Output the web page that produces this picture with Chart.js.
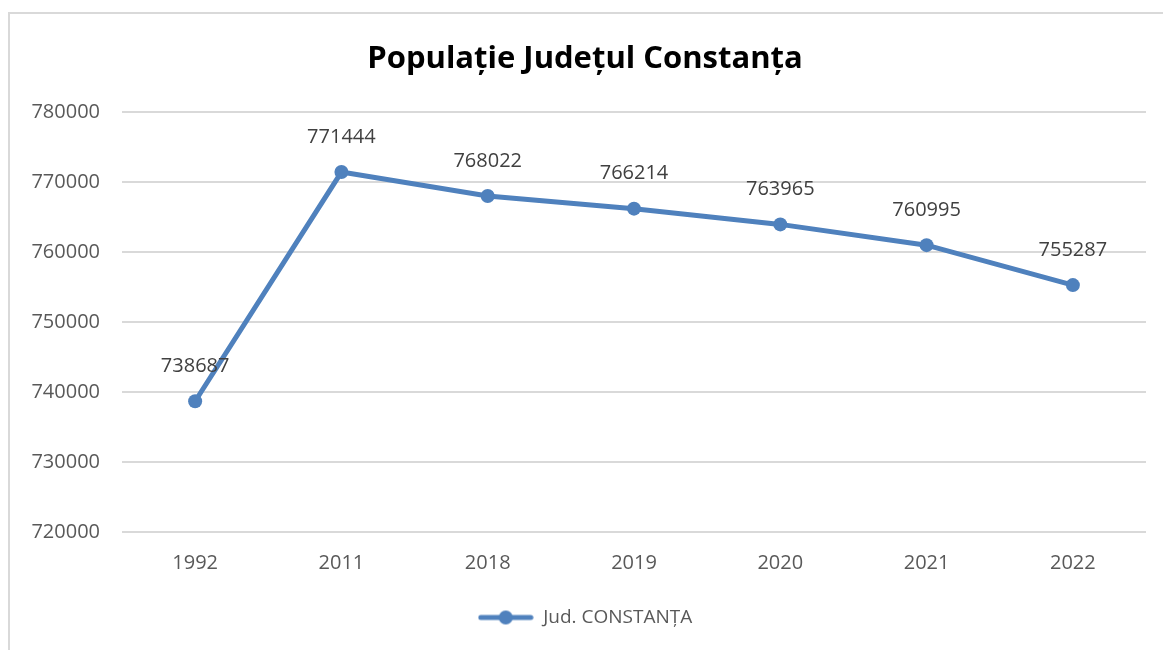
<!DOCTYPE html>
<html>
<head>
<meta charset="utf-8">
<script src="https://cdn.jsdelivr.net/npm/chart.js@4.4.1/dist/chart.umd.min.js"></script>
<style>
  html, body { margin: 0; padding: 0; background: #fff; }
  #wrap { position: relative; width: 1163px; height: 650px; overflow: hidden; }
  #frame { position: absolute; left: 8px; top: 12px; width: 1200px; height: 700px;
           border-left: 2px solid #d9d9d9; border-top: 2px solid #d9d9d9; }
  #c { position: absolute; left: 0; top: 0; }
</style>
</head>
<body>
<div id="wrap">
  <div id="frame"></div>
  <canvas id="c" width="1163" height="650"></canvas>
</div>
<script>
// ── data ──
const years = ['1992', '2011', '2018', '2019', '2020', '2021', '2022'];
const population = [738687, 771444, 768022, 766214, 763965, 760995, 755287];
const yTicks = [720000, 730000, 740000, 750000, 760000, 770000, 780000];

const BLUE = '#4f81bd';
const FONT = "'Open Sans', 'Noto Sans', sans-serif";

// legend marker: line with a dot in the middle
const marker = document.createElement('canvas');
marker.width = 56; marker.height = 16;
(function () {
  const m = marker.getContext('2d');
  m.strokeStyle = BLUE; m.lineWidth = 5; m.lineCap = 'round';
  m.beginPath(); m.moveTo(3, 8); m.lineTo(53, 8); m.stroke();
  m.fillStyle = BLUE;
  m.beginPath(); m.arc(28, 8, 7, 0, Math.PI * 2); m.fill();
})();

// value labels above each point
const valueLabels = {
  id: 'valueLabels',
  afterDatasetsDraw(chart) {
    const ctx = chart.ctx;
    const meta = chart.getDatasetMeta(0);
    ctx.save();
    ctx.font = '20px ' + FONT;
    ctx.fillStyle = '#404040';
    ctx.textAlign = 'center';
    ctx.textBaseline = 'middle';
    meta.data.forEach((pt, i) => {
      ctx.fillText(String(population[i]), pt.x, pt.y - 35);
    });
    ctx.restore();
  }
};

new Chart(document.getElementById('c'), {
  type: 'line',
  data: {
    labels: years,
    datasets: [{
      label: 'Jud. CONSTANȚA',
      data: population,
      borderColor: BLUE,
      backgroundColor: BLUE,
      borderWidth: 5,
      pointRadius: 7,
      pointBackgroundColor: BLUE,
      pointBorderWidth: 0,
      tension: 0,
      pointStyle: 'circle'
    }]
  },
  options: {
    responsive: false,
    animation: false,
    layout: { padding: { left: 24, right: 17, top: 0, bottom: 13 } },
    plugins: {
      title: {
        display: true,
        text: 'Populație Județul Constanța',
        color: '#000',
        font: { family: FONT, size: 31, weight: 'bold' },
        padding: { top: 41, bottom: 34 }
      },
      legend: {
        position: 'bottom',
        labels: {
          usePointStyle: true,
          pointStyle: marker,
          pointStyleWidth: 56,
          color: '#595959',
          font: { family: FONT, size: 19 },
          padding: 14
        }
      },
      tooltip: { enabled: false }
    },
    scales: {
      x: {
        offset: true,
        grid: { display: false, drawTicks: false },
        border: { display: false },
        ticks: { color: '#595959', font: { family: FONT, size: 20 }, padding: 19 }
      },
      y: {
        min: 720000, max: 780000,
        afterBuildTicks: s => { s.ticks = yTicks.map(v => ({ value: v })); },
        afterFit: s => { s.width = 98; },
        grid: { color: '#d9d9d9', lineWidth: 2, drawTicks: false },
        border: { display: false },
        ticks: {
          color: '#595959', font: { family: FONT, size: 20 }, padding: 22,
          callback: v => String(v)
        }
      }
    }
  },
  plugins: [valueLabels]
});
</script>
</body>
</html>
